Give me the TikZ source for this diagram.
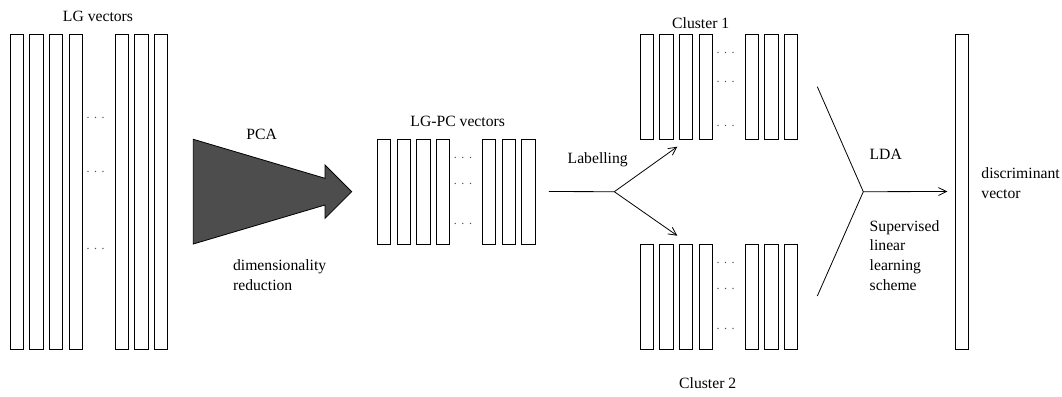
\documentclass[tikz,border=0pt]{standalone}
\usepackage{fontspec}
\setmainfont{Liberation Serif}
\usepackage{tikz}
\usetikzlibrary{arrows.meta}
\definecolor{pcagray}{HTML}{4D4D4D}
\newcommand{\bardots}{.\hspace{3.4pt}.\hspace{3.4pt}.}

\begin{document}
\begin{tikzpicture}[x=0.75pt, y=-0.75pt, line width=0.6pt,
  bar/.style={draw, rectangle, inner sep=0pt, minimum width=10pt},
  lbl/.style={inner sep=0pt, font=\fontsize{11.75}{14.8}\selectfont, align=left},
  dotsep/.style={inner sep=0pt, font=\fontsize{9}{10}\selectfont, text=black!70},
  >={Straight Barb[length=6pt, width=6pt]}]
  \useasboundingbox (0,0) rectangle (1062,396);

  \foreach \grp/\cx/\top/\len/\da/\db/\dc in {lg/16.7/34/315/118/172/249, pc/384/139/105/158.3/184.3/224.3, ca/646.7/34/105/53.3/81.7/126, cb/646.7/244/105/263.3/289.3/329.3}{
    \foreach \i/\dx in {1/0, 2/19.7, 3/39.4, 4/59.1, 5/105, 6/124.7, 7/144.4}
      \node[bar, minimum height=\len*0.75pt] (\grp\i) at ({\cx+\dx}, {\top+\len/2}) {};
    \node[dotsep] (\grp dots1) at ({\cx+79}, \da) {\bardots};
    \node[dotsep] (\grp dots2) at ({\cx+79}, \db) {\bardots};
    \node[dotsep] (\grp dots3) at ({\cx+79}, \dc) {\bardots};
  }
  \node[bar, minimum height=236.25pt] (dv) at (961.7,191.5) {};

  \node[lbl] (lgtitle) at (98,16) {LG vectors};
  \node[lbl] (pctitle) at (457.7,121.7) {LG-PC vectors};
  \node[lbl] (catitle) at (700.7,23.3) {Cluster 1};
  \node[lbl] (cbtitle) at (707.7,382.7) {Cluster 2};
  \node[lbl] (dvtitle) [anchor=west] at (981,183) {discriminant\\vector};

  \draw[fill=pcagray] (193.3,139.3) -- (325,178.3) -- (325,165) -- (351.7,191.7)
    -- (325,218.3) -- (325,205) -- (193.3,244) -- cycle;
  \node[lbl] (pca) at (261.7,134) {PCA};
  \node[lbl] (dimred) [anchor=west] at (232.7,275.3) {dimensionality\\reduction};

  \coordinate (lab) at (614.3,191.7);
  \coordinate (toca) at (677.3,146.7);
  \coordinate (tocb) at (677.3,235.7);
  \draw[shorten <=10pt] (pc7.east) -- (lab);
  \draw[->] (lab) -- (toca);
  \draw[->] (lab) -- (tocb);
  \node[lbl] (labelling) at (597.7,160) {Labelling};

  \coordinate (lda) at (863.3,191.7);
  \coordinate (ldaup) at (817.3,86.7);
  \coordinate (ldadown) at (817.3,296);
  \draw (ldaup) -- (lda) -- (ldadown);
  \draw[->, shorten >=5.5pt] (lda) -- (dv.west);
  \node[lbl] (ldatitle) at (885.7,154) {LDA};
  \node[lbl] (scheme) [anchor=west] at (869.3,255.5) {Supervised\\linear\\learning\\scheme};
\end{tikzpicture}
\end{document}
